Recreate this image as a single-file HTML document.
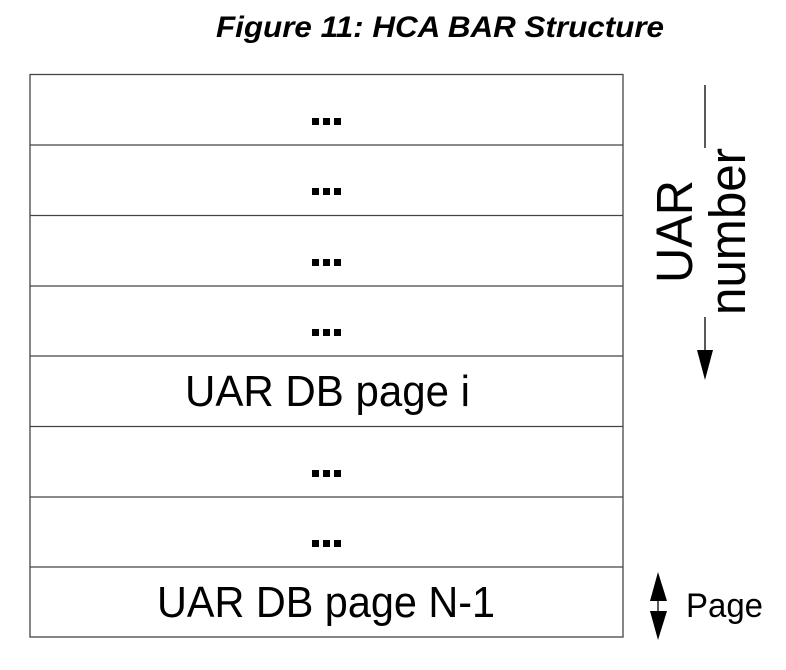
<!DOCTYPE html>
<html><head><meta charset="utf-8"><style>
html,body{margin:0;padding:0;background:#fff;}
svg{display:block;}
text{font-family:"Liberation Sans",Arial,sans-serif;fill:#000;}
</style></head><body>
<svg width="786" height="670" viewBox="0 0 786 670" xmlns="http://www.w3.org/2000/svg">
<text x="216" y="37" font-size="30" font-weight="bold" font-style="italic" textLength="448" lengthAdjust="spacingAndGlyphs">Figure 11: HCA BAR Structure</text>
<g stroke="#444" stroke-width="1.3" fill="none">
<rect x="30" y="74.5" width="593" height="562.5"/>
<line x1="30" y1="145" x2="623" y2="145"/>
<line x1="30" y1="215.5" x2="623" y2="215.5"/>
<line x1="30" y1="286" x2="623" y2="286"/>
<line x1="30" y1="356" x2="623" y2="356"/>
<line x1="30" y1="426.5" x2="623" y2="426.5"/>
<line x1="30" y1="497" x2="623" y2="497"/>
<line x1="30" y1="567" x2="623" y2="567"/>
</g>
<g fill="#000">
<rect x="312" y="118" width="7" height="7"/><rect x="323" y="118" width="7" height="7"/><rect x="334" y="118" width="7" height="7"/>
<rect x="312" y="188" width="7" height="7"/><rect x="323" y="188" width="7" height="7"/><rect x="334" y="188" width="7" height="7"/>
<rect x="312" y="259" width="7" height="7"/><rect x="323" y="259" width="7" height="7"/><rect x="334" y="259" width="7" height="7"/>
<rect x="312" y="329" width="7" height="7"/><rect x="323" y="329" width="7" height="7"/><rect x="334" y="329" width="7" height="7"/>
<rect x="312" y="470" width="7" height="7"/><rect x="323" y="470" width="7" height="7"/><rect x="334" y="470" width="7" height="7"/>
<rect x="312" y="540" width="7" height="7"/><rect x="323" y="540" width="7" height="7"/><rect x="334" y="540" width="7" height="7"/>
</g>
<text x="185" y="406" font-size="44" textLength="285" lengthAdjust="spacingAndGlyphs">UAR DB page i</text>
<text x="157" y="617" font-size="44" textLength="338" lengthAdjust="spacingAndGlyphs">UAR DB page N-1</text>
<line x1="705" y1="85" x2="705" y2="148" stroke="#000" stroke-width="1.3"/>
<line x1="705" y1="317" x2="705" y2="355" stroke="#000" stroke-width="1.3"/>
<polygon points="697,350 713,350 705,380" fill="#000"/>
<text transform="translate(692,283) rotate(-90)" font-size="51" textLength="103" lengthAdjust="spacingAndGlyphs">UAR</text>
<text transform="translate(745,315) rotate(-90)" font-size="51" textLength="167" lengthAdjust="spacingAndGlyphs">number</text>
<line x1="658" y1="595" x2="658" y2="615" stroke="#000" stroke-width="1.3"/>
<polygon points="658,572 650,601 667,601" fill="#000"/>
<polygon points="658,640 650,611 667,611" fill="#000"/>
<text x="686" y="617" font-size="34" textLength="77" lengthAdjust="spacingAndGlyphs">Page</text>
</svg>
</body></html>
